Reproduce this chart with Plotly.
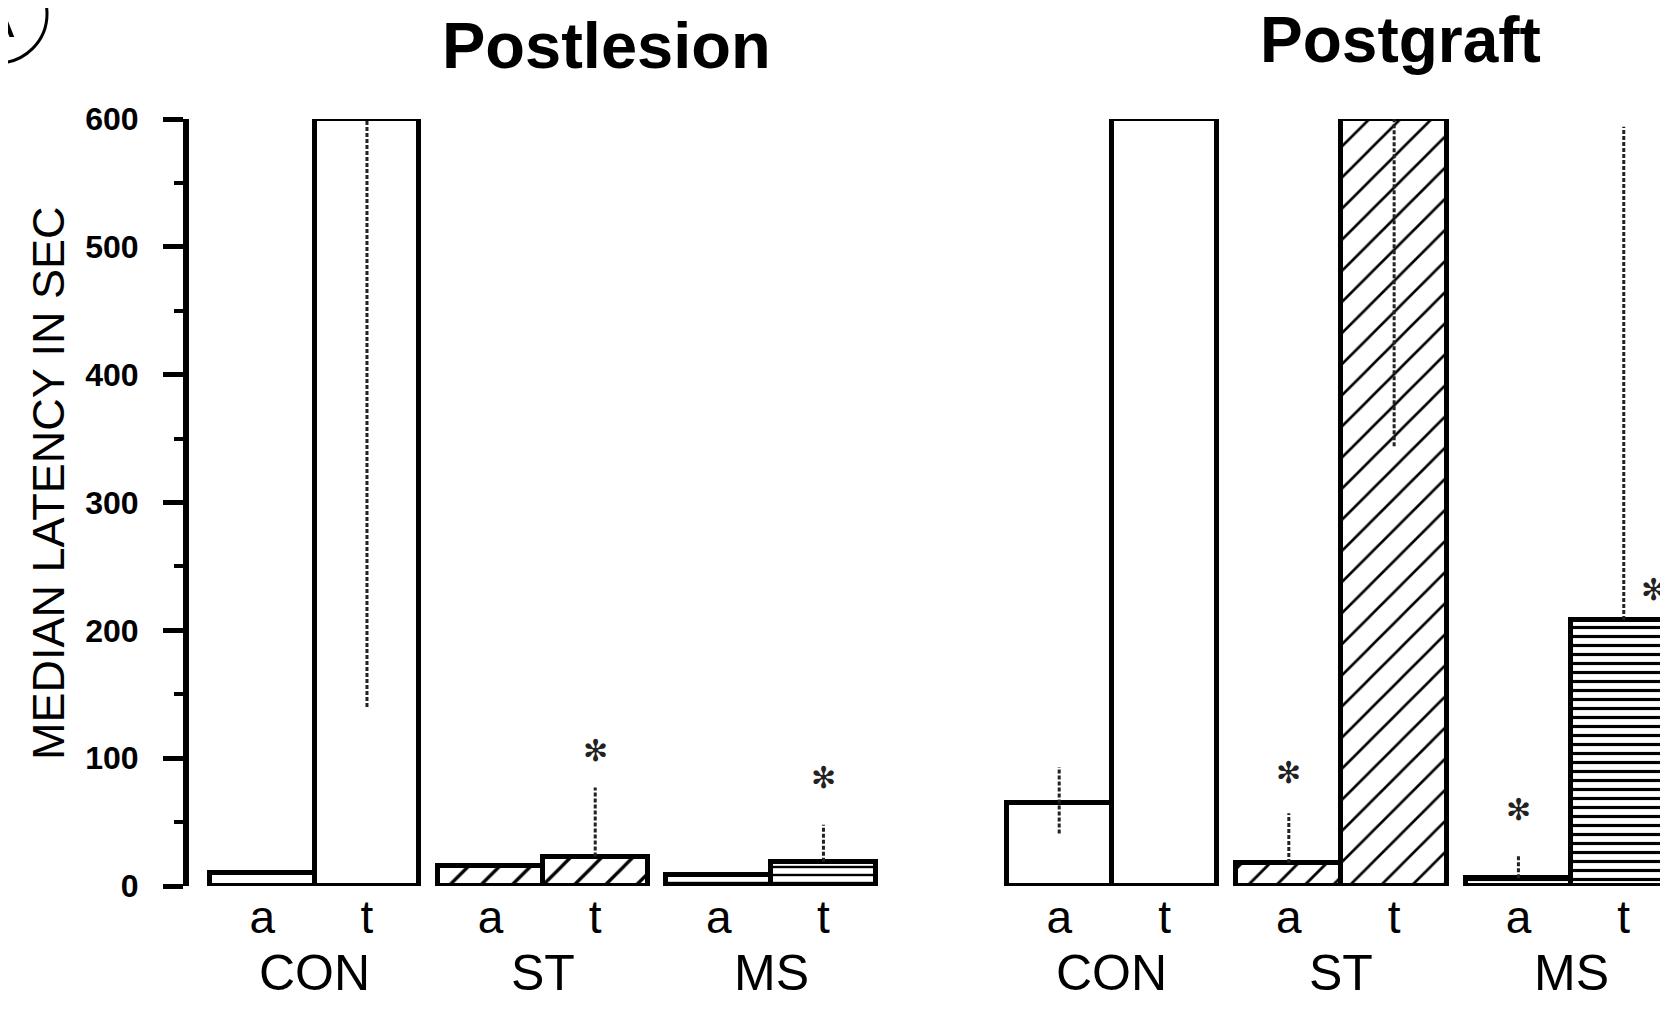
import plotly.graph_objects as go

# ---------------- data ----------------
groups = ["CON", "ST", "MS"]
conditions = ["a", "t"]
panels = ["Postlesion", "Postgraft"]

postlesion_median = [10, 600, 16, 23, 9, 19]
postlesion_upper = [10, 600, 16, 77, 9, 48]
postlesion_lower = [10, 140, 16, 23, 9, 19]
postlesion_star = [None, None, None, 106, None, 85]

postgraft_median = [65, 600, 18, 600, 6, 208]
postgraft_upper = [93, 600, 57, 600, 24, 594]
postgraft_lower = [41, 600, 18, 344, 6, 208]
postgraft_star = [None, None, 89, None, 60, 232]

y_ticks = [0, 100, 200, 300, 400, 500, 600]

# ---------------- layout helpers ----------------
OFF = 8                      # page body margin around the plot div
WF, HF = 1668 - OFF, 1011 - OFF
FONT = "Liberation Sans, Arial, Helvetica, sans-serif"
GROUP_STEP = 2.18  # spacing between groups (bar width = 1)


def px(x):
    return (x - OFF) / WF


def py(y):
    return 1 - (y - OFF) / HF


xpos = [g * GROUP_STEP + c for g in range(len(groups)) for c in range(len(conditions))]
xlab = [c for g in groups for c in conditions]

# pattern styling per bar (CON open, ST diagonal hatch, MS horizontal lines)
les_shape = ["", "", "/", "/", "-", "-"]
les_size = [10, 10, 22, 22, 8, 8]
les_solid = [0.1, 0.1, 0.15, 0.15, 0.3, 0.3]
gra_shape = ["", "", "/", "/", "-", "-"]
gra_size = [10, 10, 20, 22, 9, 9]
gra_solid = [0.1, 0.1, 0.14, 0.12, 0.35, 0.35]

fig = go.Figure()


def add_panel(vals, hi, lo, shapes, sizes, solid, xa, ya):
    fig.add_trace(go.Bar(
        x=xpos, y=vals, width=1.0, xaxis=xa, yaxis=ya,
        marker=dict(color="white",
                    line=dict(color="black", width=5),
                    pattern=dict(shape=shapes, size=sizes, solidity=solid,
                                 fgcolor="black", bgcolor="white")),
        cliponaxis=False, showlegend=False, hoverinfo="y",
    ))
    # dotted range (error) lines, from lower to upper limit of each bar
    ex, ey = [], []
    for x, h, l in zip(xpos, hi, lo):
        if h != l:
            ex += [x, x, None]
            ey += [l, h, None]
    fig.add_trace(go.Scatter(
        x=ex, y=ey, xaxis=xa, yaxis=ya, mode="lines",
        line=dict(color="#222", width=3, dash="4px,2px"),
        cliponaxis=False, showlegend=False, hoverinfo="skip",
    ))


add_panel(postlesion_median, postlesion_upper, postlesion_lower,
          les_shape, les_size, les_solid, "x", "y")
add_panel(postgraft_median, postgraft_upper, postgraft_lower,
          gra_shape, gra_size, gra_solid, "x2", "y2")

ydom = [py(886), py(119)]

fig.update_layout(
    template="none",
    width=WF, height=HF,
    margin=dict(l=0, r=0, t=0, b=0, pad=0),
    paper_bgcolor="white", plot_bgcolor="white",
    font=dict(family=FONT, color="black"),
    bargap=0,
    xaxis=dict(domain=[px(189), px(880)], range=[-0.70, 5.90], anchor="y",
               automargin=False,
               tickmode="array", tickvals=xpos, ticktext=xlab,
               tickfont=dict(size=46, family=FONT), ticks="", showline=False,
               showgrid=False, zeroline=False, ticklabelstandoff=0),
    yaxis=dict(domain=ydom, range=[0, 600], anchor="x", automargin=False,
               tickmode="array", tickvals=y_ticks,
               tickfont=dict(size=32, family=FONT, weight="bold"),
               ticks="outside", ticklen=20, tickwidth=5, tickcolor="black",
               minor=dict(dtick=50, ticks="outside", ticklen=9, tickwidth=4,
                          tickcolor="black", showgrid=False),
               showline=True, linewidth=6, linecolor="black",
               showgrid=False, zeroline=False, ticklabelstandoff=18),
    xaxis2=dict(domain=[px(996), 1.0], range=[-0.60, 5.78], anchor="y2",
                automargin=False,
                tickmode="array", tickvals=xpos, ticktext=xlab,
                tickfont=dict(size=46, family=FONT), ticks="", showline=False,
                showgrid=False, zeroline=False, ticklabelstandoff=0),
    yaxis2=dict(domain=ydom, range=[0, 600], anchor="x2", visible=False,
                automargin=False),
)

annotations = []
C = dict(showarrow=False, xanchor="center", yanchor="middle")
# y-axis title
annotations.append(dict(text="MEDIAN LATENCY IN SEC", textangle=-90,
                        x=px(48), y=py(484), xref="paper", yref="paper",
                        font=dict(size=45, family=FONT), **C))
# panel titles
annotations.append(dict(text=panels[0], x=px(606), y=py(46),
                        xref="paper", yref="paper",
                        font=dict(size=65, family=FONT, weight="bold"), **C))
annotations.append(dict(text=panels[1], x=px(1400), y=py(40),
                        xref="paper", yref="paper",
                        font=dict(size=64, family=FONT, weight="bold"), **C))
# group labels
for xa in ["x", "x2"]:
    for gi, g in enumerate(groups):
        annotations.append(dict(text=g, x=gi * GROUP_STEP + 0.5, xref=xa,
                                y=py(973), yref="paper",
                                font=dict(size=50, family=FONT), **C))
# significance asterisks
for xa, ya, stars in [("x", "y", postlesion_star), ("x2", "y2", postgraft_star)]:
    for i, s in enumerate(stars):
        if s is None:
            continue
        shift = 30 if (xa == "x2" and i == 5) else 0
        annotations.append(dict(text="✻", x=xpos[i], y=s, xref=xa, yref=ya,
                                xshift=shift,
                                font=dict(size=30, family="DejaVu Sans",
                                          color="#222"), **C))
# panel letter (circled A, partly cut off)
annotations.append(dict(text="A", x=px(-2), y=py(20), xref="paper",
                        yref="paper", font=dict(size=50, family=FONT), **C))
fig.update_layout(annotations=annotations)

fig.add_shape(type="circle", xref="paper", yref="paper",
              x0=px(-52), x1=px(47), y0=py(63), y1=py(-35),
              line=dict(color="black", width=3))

fig.write_html("out.html")
